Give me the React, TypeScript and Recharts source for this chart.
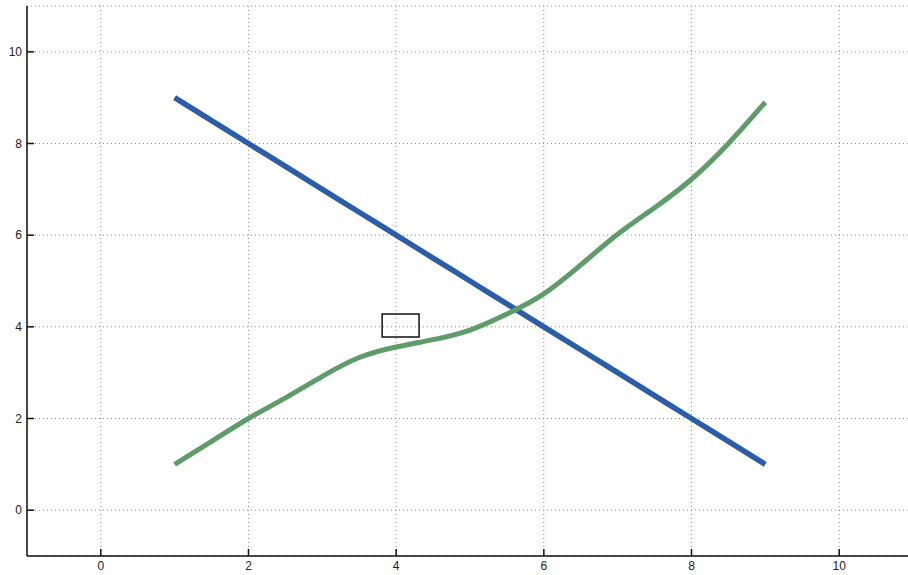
import React from 'react'
import {
  LineChart,
  Line,
  XAxis,
  YAxis,
  CartesianGrid,
  ReferenceArea,
} from 'recharts'

// sample positions along x
const xValues = [1, 1.5, 2, 2.5, 3, 3.5, 4, 4.5, 5, 5.5, 6, 6.5, 7, 7.5, 8, 8.5, 9]
// straight falling line
const blueValues = [9, 8.5, 8, 7.5, 7, 6.5, 6, 5.5, 5, 4.5, 4, 3.5, 3, 2.5, 2, 1.5, 1]
// rising curve with a flat shoulder near x = 4
const greenValues = [1, 1.5, 2, 2.45, 2.92, 3.33, 3.56, 3.72, 3.93, 4.28, 4.72, 5.35, 6.02, 6.6, 7.22, 8, 8.9]

const xTicks = [0, 2, 4, 6, 8, 10]
const yTicks = [0, 2, 4, 6, 8, 10]

// the little empty box drawn on the plot
const boxX = [3.81, 4.31]
const boxY = [3.78, 4.28]

const data = xValues.map((x, i) => ({ x, blue: blueValues[i], green: greenValues[i] }))

const FONT = '"Liberation Sans", Arial, sans-serif'
const TICK_LEN = 7

function BottomTick({ x, y, payload }: any) {
  return (
    <g>
      <line x1={x} x2={x} y1={y} y2={y - TICK_LEN} stroke="#111" strokeWidth={1.5} />
      <text x={x} y={y + 14} textAnchor="middle" fontSize={12} fontFamily={FONT} fill="#222">
        {payload.value}
      </text>
    </g>
  )
}

function LeftTick({ x, y, payload }: any) {
  return (
    <g>
      <line x1={x} x2={x + TICK_LEN} y1={y} y2={y} stroke="#111" strokeWidth={1.5} />
      <text x={x - 5} y={y + 4} textAnchor="end" fontSize={12} fontFamily={FONT} fill="#222">
        {payload.value}
      </text>
    </g>
  )
}

function TopTick({ x, y }: any) {
  return <line x1={x} x2={x} y1={y} y2={y + TICK_LEN} stroke="#111" strokeWidth={1.5} />
}

export default function App() {
  return (
    <div
      style={{
        position: 'fixed',
        left: 0,
        top: 0,
        width: 908,
        height: 575,
        overflow: 'hidden',
        background: '#fff',
      }}
    >
      <LineChart width={916} height={575} data={data} margin={{ top: 6, right: 3, bottom: 0, left: 0 }}>
        <CartesianGrid stroke="#8a8a8a" strokeDasharray="1 3" />
        <XAxis
          dataKey="x"
          type="number"
          domain={[-1, 11]}
          ticks={xTicks}
          allowDataOverflow
          height={19}
          tickSize={0}
          tickMargin={0}
          tickLine={false}
          axisLine={{ stroke: '#111', strokeWidth: 1.5 }}
          tick={<BottomTick />}
        />
        <XAxis
          xAxisId="top"
          orientation="top"
          dataKey="x"
          type="number"
          domain={[-1, 11]}
          ticks={xTicks}
          allowDataOverflow
          height={0}
          tickSize={0}
          tickMargin={0}
          tickLine={false}
          axisLine={{ stroke: '#111', strokeWidth: 1.5 }}
          tick={<TopTick />}
        />
        <YAxis
          type="number"
          domain={[-1, 11]}
          ticks={yTicks}
          allowDataOverflow
          width={27}
          tickSize={0}
          tickMargin={0}
          tickLine={false}
          axisLine={{ stroke: '#111', strokeWidth: 1.5 }}
          tick={<LeftTick />}
        />
        <Line
          type="monotone"
          dataKey="blue"
          stroke="#2c5da8"
          strokeWidth={5.5}
          dot={false}
          isAnimationActive={false}
        />
        <Line
          type="natural"
          dataKey="green"
          stroke="#5e9c69"
          strokeWidth={5}
          dot={false}
          isAnimationActive={false}
        />
        <ReferenceArea
          x1={boxX[0]}
          x2={boxX[1]}
          y1={boxY[0]}
          y2={boxY[1]}
          fill="none"
          fillOpacity={0}
          stroke="#111"
          strokeWidth={1.5}
        />
      </LineChart>
    </div>
  )
}
